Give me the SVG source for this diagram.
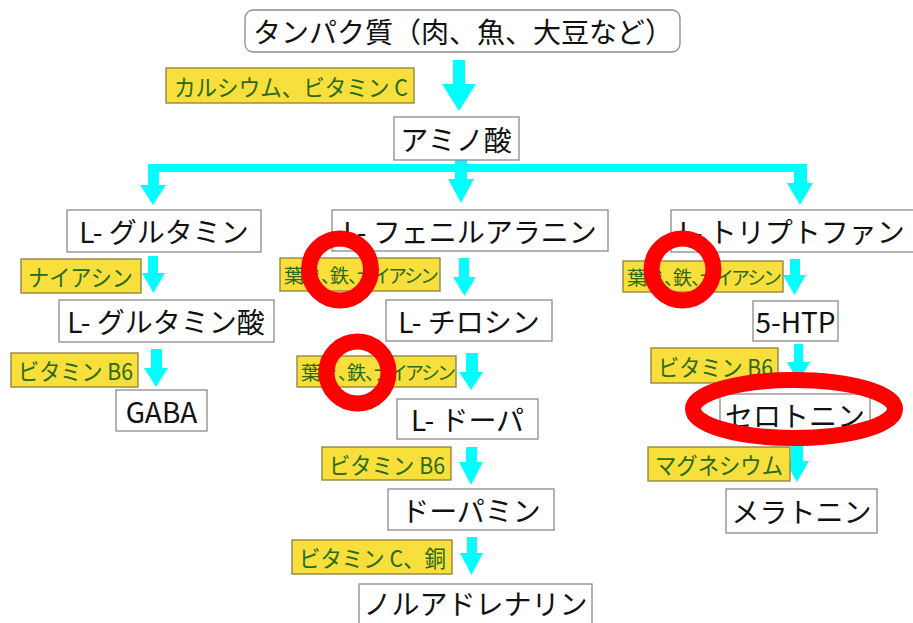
<svg xmlns="http://www.w3.org/2000/svg" width="913" height="623" viewBox="0 0 913 623">
<style>
.box{fill:#fff;stroke:#8a8a8a;stroke-width:1.3}
.t{font-family:"Noto Sans CJK JP","Liberation Sans",sans-serif;font-size:28px;fill:#111;text-anchor:middle;dominant-baseline:central}
.lb{fill:#f8df3c;stroke:#8f7f3a;stroke-width:1.3}
.lt{font-family:"Noto Sans CJK JP","Liberation Sans",sans-serif;font-size:23px;fill:#2a6a1a;dominant-baseline:central}
.ls{font-size:19px}
.ar{fill:#00ffff}
.ring{fill:none;stroke:#ff0000;stroke-width:16}
</style>
<rect width="913" height="623" fill="#fff"/>
<g id="connectors">
<polygon class="ar" points="453,60 465,60 465,84 476,84 459,111 442,84 453,84"/>
<polygon class="ar" points="455,160 467,160 467,164 807,164 807,183 813,183 800,205 787,183 794,183 794,172 467,172 467,179 474,179 461,203 448,179 455,179 455,172 159,172 159,185 166,185 153,205 140,185 148,185 148,164 455,164"/>
<polygon class="ar" points="148,256 158,256 158,273 165,273 153.5,293 142,273 148,273"/>
<polygon class="ar" points="151,349 162,349 162,368 168,368 156,387 144,368 151,368"/>
<polygon class="ar" points="459,258 469,258 469,277 476,277 464.5,296 453,277 459,277"/>
<polygon class="ar" points="466,353 478,353 478,372 483,372 471,390 459,372 466,372"/>
<polygon class="ar" points="466,447 477,447 477,462 483,462 471,485 459,462 466,462"/>
<polygon class="ar" points="467,537 477,537 477,553 483,553 471.5,575 460,553 467,553"/>
<polygon class="ar" points="790,259 800,259 800,275 806,275 794.5,295 783,275 790,275"/>
<polygon class="ar" points="794,344 803,344 803,362 810,362 798.5,382 787,362 794,362"/>
<polygon class="ar" points="791,440 803,440 803,461 809,461 797,482 785,461 791,461"/>
</g>
<g id="protein"><rect class="box" x="245" y="10" width="435" height="42" rx="8" stroke="#999"/><text class="t" x="463" y="31">タンパク質（肉、魚、大豆など）</text></g>
<g id="amino"><rect class="box" x="394" y="117" width="125" height="43"/><text class="t" x="456" y="138.5">アミノ酸</text></g>
<g id="glutamine"><rect class="box" x="67" y="210" width="194" height="42"/><text class="t" x="164" y="231">L- グルタミン</text></g>
<g id="phenylalanine"><rect class="box" x="332" y="210" width="276" height="41"/><text class="t" x="470" y="230.5">L- フェニルアラニン</text></g>
<g id="tryptophan"><rect class="box" x="671" y="210" width="245" height="42"/><text class="t" x="792" y="231">L- トリプトファン</text></g>
<g id="glutamic"><rect class="box" x="59" y="300" width="215" height="42"/><text class="t" x="166" y="321">L- グルタミン酸</text></g>
<g id="tyrosine"><rect class="box" x="386" y="300" width="166" height="41"/><text class="t" x="469" y="320.5">L- チロシン</text></g>
<g id="gaba"><rect class="box" x="116" y="390" width="91" height="41"/><text class="t" x="161.5" y="410.5">GABA</text></g>
<g id="dopa"><rect class="box" x="397" y="399" width="141" height="40"/><text class="t" x="467.5" y="419">L- ドーパ</text></g>
<g id="dopamine"><rect class="box" x="388" y="489" width="166" height="41"/><text class="t" x="471" y="509.5">ドーパミン</text></g>
<g id="noradrenaline"><rect class="box" x="359" y="584" width="233" height="44"/><text class="t" x="475.5" y="603">ノルアドレナリン</text></g>
<g id="htp"><rect class="box" x="753" y="301" width="85" height="40"/><text class="t" x="795.5" y="321">5-HTP</text></g>
<g id="serotonin"><rect class="box" x="720" y="394" width="150" height="41"/><text class="t" x="795" y="414.5">セロトニン</text></g>
<g id="melatonin"><rect class="box" x="726" y="489" width="151" height="44"/><text class="t" x="801.5" y="511">メラトニン</text></g>
<g id="label-calcium"><rect class="lb" x="166" y="68" width="248" height="35"/><text class="lt" x="174" y="85.5" textLength="234" lengthAdjust="spacingAndGlyphs">カルシウム、ビタミン C</text></g>
<g id="label-niacin"><rect class="lb" x="21" y="259" width="120" height="34"/><text class="lt" x="28" y="276" textLength="105" lengthAdjust="spacingAndGlyphs">ナイアシン</text></g>
<g id="label-b6-left"><rect class="lb" x="11" y="353" width="127" height="34"/><text class="lt" x="18" y="370" textLength="115" lengthAdjust="spacingAndGlyphs">ビタミン B6</text></g>
<g id="label-folate-1"><rect class="lb" x="280" y="258" width="160" height="33"/><text class="lt ls" x="284 300 321 330 348 356 372 388 404 420" y="274.5">葉酸、鉄、ナイアシン</text></g>
<g id="label-folate-2"><rect class="lb" x="297" y="356" width="159" height="31"/><text class="lt ls" x="301 317 338 347 365 373 389 405 421 437" y="371.5">葉酸、鉄、ナイアシン</text></g>
<g id="label-b6-mid"><rect class="lb" x="322" y="447" width="129" height="33"/><text class="lt" x="329" y="463.5" textLength="116" lengthAdjust="spacingAndGlyphs">ビタミン B6</text></g>
<g id="label-vc-cu"><rect class="lb" x="292" y="540" width="160" height="34"/><text class="lt" x="299" y="557" textLength="147" lengthAdjust="spacingAndGlyphs">ビタミン C、銅</text></g>
<g id="label-folate-3"><rect class="lb" x="623" y="261" width="160" height="31"/><text class="lt ls" x="627 643 664 673 691 699 715 731 747 763" y="276.5">葉酸、鉄、ナイアシン</text></g>
<g id="label-b6-right"><rect class="lb" x="651" y="348" width="127" height="35"/><text class="lt" x="658" y="365.5" textLength="115" lengthAdjust="spacingAndGlyphs">ビタミン B6</text></g>
<g id="label-magnesium"><rect class="lb" x="648" y="447" width="142" height="34"/><text class="lt" x="655" y="464" textLength="128" lengthAdjust="spacingAndGlyphs">マグネシウム</text></g>
<g id="highlights">
<circle class="ring" cx="340" cy="269.5" r="31"/>
<circle class="ring" cx="357.5" cy="372.5" r="31"/>
<circle class="ring" cx="682.5" cy="269.5" r="31"/>
<ellipse class="ring" cx="794" cy="409" rx="101" ry="29"/>
</g>
</svg>
